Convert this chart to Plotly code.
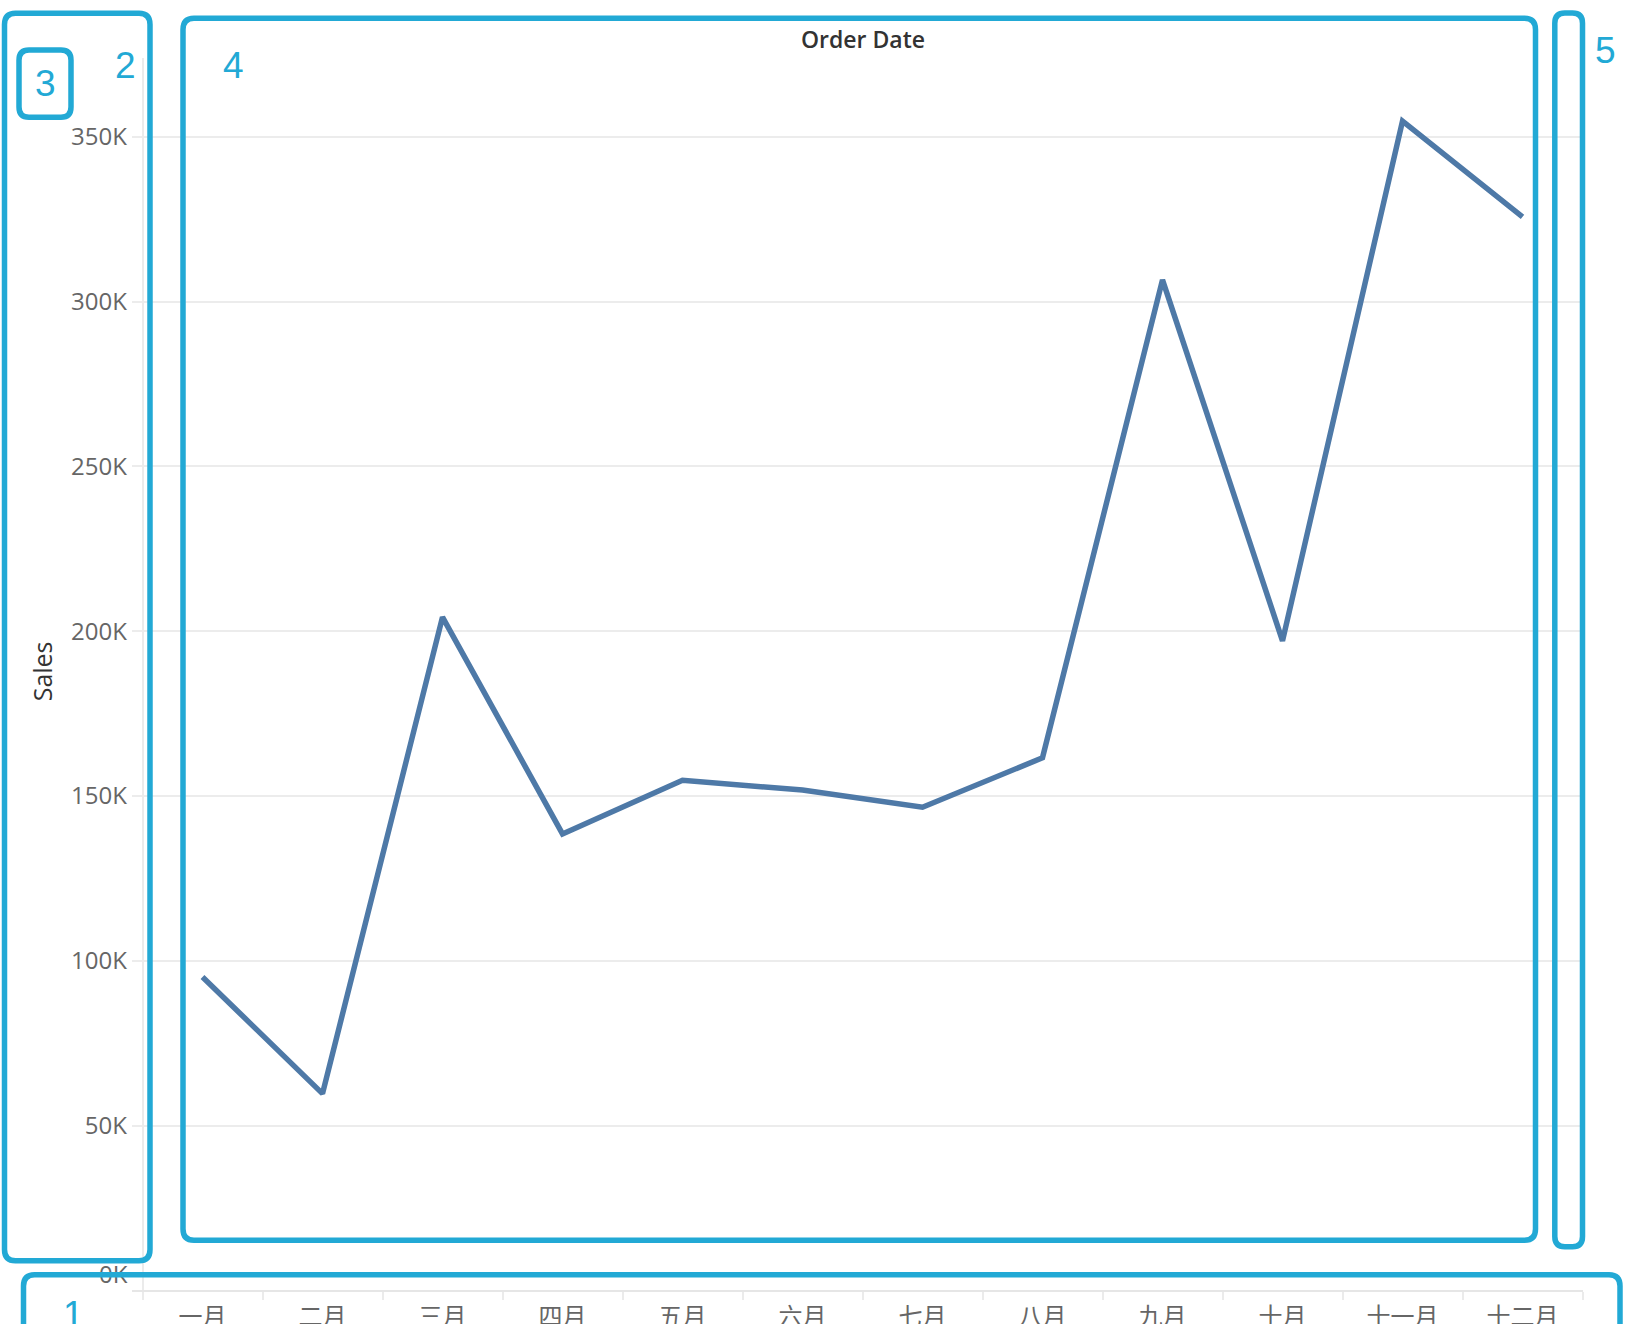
import plotly.graph_objects as go

# ---------------- data ----------------
months = ["一月", "二月", "三月", "四月", "五月", "六月",
          "七月", "八月", "九月", "十月", "十一月", "十二月"]
sales = [95100, 59700, 204300, 138500, 154800, 151800,
         146600, 161600, 306600, 197100, 354800, 325700]
y_tick_vals = [50000, 100000, 150000, 200000, 250000, 300000, 350000]
y_tick_text = ["50K", "100K", "150K", "200K", "250K", "300K", "350K"]
zero_tick_val = [0]
zero_tick_text = ["0K"]
x_title = "Order Date"
y_title = "Sales"
box_numbers = ["1", "2", "3", "4", "5"]

# ---------------- geometry helpers ----------------
# geometry is measured in the 1642x1324 reference frame; positions are
# given as paper fractions of that frame.
W, H = 1642, 1324
FIG_H = 1357   # rendered page height (the photo maps it onto 1324 rows)
def px(x):
    return x / W
def py(y):
    return 1 - y / H

LINE_BLUE = "#4e79a7"
BOX_BLUE = "#22a9d5"
GRID = "#ececec"
LATIN = "Open Sans"

Y_MAX = 373800
fig = go.Figure()
fig.add_trace(go.Scatter(
    x=months, y=sales, mode="lines",
    line=dict(color=LINE_BLUE, width=5.5),
    hoverinfo="skip", showlegend=False,
))

x_left_px = 132.0
first_boundary_px = 142.5
cat_w = 120.0
x_right_px = first_boundary_px + 12 * cat_w

fig.update_layout(
    width=W, height=FIG_H, autosize=False,
    margin=dict(l=0, r=0, t=0, b=0),
    paper_bgcolor="white", plot_bgcolor="white",
    showlegend=False,
    xaxis=dict(
        type="category",
        domain=[px(x_left_px), px(x_right_px)],
        range=[-0.5 - (first_boundary_px - x_left_px) / cat_w, 11.5],
        anchor="y",
        tickson="boundaries",
        ticks="outside", ticklen=8, tickwidth=2, tickcolor="#ebebeb",
        showgrid=False, zeroline=False,
        showline=True, linecolor="#e6e6e6", linewidth=2,
        tickfont=dict(family="Noto Sans CJK SC", size=24, color="#666666"),
        ticklabelstandoff=4,
        fixedrange=True,
    ),
    yaxis=dict(
        domain=[py(1259), py(57)],
        range=[0, Y_MAX],
        anchor="free", position=px(first_boundary_px),
        tickvals=y_tick_vals, ticktext=y_tick_text,
        ticks="", showgrid=True, gridcolor=GRID, gridwidth=1.5,
        zeroline=False,
        showline=True, linecolor="#ebebeb", linewidth=1.5,
        tickfont=dict(family=LATIN, size=24, color="#666666"),
        ticklabelstandoff=10,
        fixedrange=True,
    ),
    yaxis2=dict(
        domain=[py(1259), py(57)],
        range=[0, Y_MAX],
        overlaying="y", anchor="free", position=px(first_boundary_px),
        side="left",
        tickvals=zero_tick_val, ticktext=zero_tick_text,
        ticks="", showgrid=False, zeroline=False, showline=False,
        tickfont=dict(family=LATIN, size=24, color="#666666"),
        ticklabelstandoff=15, ticklabelshift=-16,
        fixedrange=True,
    ),
)

# invisible carrier so the overlay axis is rendered
fig.add_trace(go.Scatter(x=[months[0]], y=[None], yaxis="y2", mode="lines",
                         hoverinfo="skip", showlegend=False))

# titles
fig.add_annotation(text=x_title, xref="paper", yref="paper",
                   x=px(863), y=py(38), xanchor="center", yanchor="middle",
                   showarrow=False,
                   font=dict(family=LATIN, size=23, color="#333333", weight=600))
fig.add_annotation(text=y_title, xref="paper", yref="paper",
                   x=px(42), y=py(655), xanchor="center", yanchor="middle",
                   textangle=-90, showarrow=False,
                   font=dict(family=LATIN, size=25, color="#333333", weight=500))

# bottom grey strip
fig.add_shape(type="rect", xref="paper", yref="paper",
              x0=0, x1=1, y0=py(1324), y1=py(1321),
              fillcolor="#dcdcdc", line=dict(width=0), layer="above")

def rbox(x0, y0, x1, y1, r):
    rx, ry = r / W, r / H
    X0, X1 = px(x0), px(x1)
    Y0, Y1 = py(y0), py(y1)
    return (f"M {X0+rx},{Y0} L {X1-rx},{Y0} Q {X1},{Y0} {X1},{Y0-ry} "
            f"L {X1},{Y1+ry} Q {X1},{Y1} {X1-rx},{Y1} "
            f"L {X0+rx},{Y1} Q {X0},{Y1} {X0},{Y1+ry} "
            f"L {X0},{Y0-ry} Q {X0},{Y0} {X0+rx},{Y0} Z")

boxes = [
    (23.5, 1243.7, 1620, 1319, 11),
    (4.5, 13, 150, 1230, 11),
    (19, 48.7, 71, 114.5, 10),
    (183, 17.8, 1535.5, 1210, 11),
    (1554.8, 12.8, 1582.5, 1216.5, 10),
]
for (x0, y0, x1, y1, r) in boxes:
    fig.add_shape(type="path", xref="paper", yref="paper",
                  path=rbox(x0, y0, x1, y1, r),
                  line=dict(color=BOX_BLUE, width=5.5), layer="above")

label_pos = [(73, 1283), (125, 64), (45.5, 81.7), (233.7, 64), (1605.3, 49)]
for txt, (lx, ly) in zip(box_numbers, label_pos):
    fig.add_annotation(text=txt, xref="paper", yref="paper",
                       x=px(lx), y=py(ly), xanchor="center", yanchor="middle",
                       showarrow=False,
                       font=dict(family="Liberation Sans", size=37, color=BOX_BLUE))

page_css = (
    "var s='margin:0;padding:0;overflow:hidden;';"
    "document.documentElement.style.cssText=s;"
    "document.body.style.cssText=s;"
)
fig.write_html("out.html", config={"displayModeBar": False}, post_script=page_css)
